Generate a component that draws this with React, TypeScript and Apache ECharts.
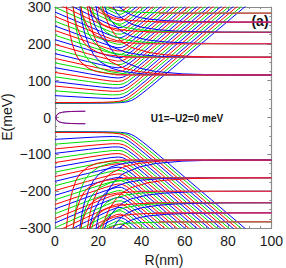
import React, { useEffect, useRef } from 'react';
import * as echarts from 'echarts';

const FONT = '"Liberation Sans", Arial, sans-serif';
const RED = '#ff0000';
const GREEN = '#00dd00';
const BLUE = '#0000ff';
const LL_COLOR = '#e62e50';
const AXIS_GREY = '#8a8a8a';

// axis ranges / ticks
const xRange = [0, 100];
const xInterval = 20;
const yRange = [-300, 300];
const yInterval = 100;

// ---- edge-state lines of the positive branch (index 0 = lowest), colours cycle blue, green, red
const edgeColorCycle = [BLUE, GREEN, RED];
const edgeStartE = [38, 39, 40, 59, 72, 85, 97, 110, 122, 135, 148, 160, 173, 185, 198, 211,
  223, 236, 248, 261, 274, 286, 299, 311, 324, 337, 349, 362, 374, 387, 400, 412];
const edgeDescent = [0, 0, 0, 0.36, 0.48, 0.6, 0.72, 0.84, 0.96, 1.08, 1.2, 1.32, 1.44, 1.56, 1.68, 1.8,
  1.92, 2.04, 2.16, 2.28, 2.4, 2.52, 2.64, 2.76, 2.88, 3.0, 3.12, 3.24, 3.36, 3.48, 3.6, 3.72];
const edgeTopR = [87.7, 85.9, 84.0, 82.2, 80.3, 78.5, 76.6, 74.8, 72.9, 71.1, 69.2, 67.4, 65.5, 63.7, 61.8, 60.0,
  58.1, 56.3, 54.4, 52.6, 50.7, 48.9, 47.0, 45.2, 43.3, 41.5, 39.6, 37.8, 35.9, 34.1, 32.2, 30.4];
const riseSlope = 5; // meV per nm along the straight rising part
const cornerRound = 8; // meV
const cornerAnchors = [-16, -10, -5, -2, 0, 2, 5, 10, 16]; // nm around the bend

// ---- Landau levels (positive branch)
const levelE = [115.7, 163.6, 200.4, 231.4, 258.7, 283.4];
const levelStartR = [28, 32, 38, 42, 46, 48];

// ---- bulk arcs converging onto the Landau levels
const arcLevel = [0, 0, 0, 0, 0, 1, 1, 1, 1, 2, 2, 2, 3, 3, 3, 4, 4, 5];
const arcTopR = [5.3, 8.4, 11.5, 15, 19, 8.4, 12, 16, 22, 12, 17, 23, 16, 21, 27, 20, 30, 24];
const arcWidth = [12.5, 15, 18, 21, 25, 14, 17, 21, 26, 15, 20, 25, 18, 22, 26, 20, 27, 22];
const arcColor = [RED, GREEN, BLUE, RED, BLUE, RED, GREEN, BLUE, RED, RED, GREEN, BLUE, RED, GREEN, BLUE, RED, BLUE, GREEN];
const arcProfile = [[-0.06, 1.6], [0, 1], [0.05, 0.8], [0.12, 0.62], [0.22, 0.45], [0.35, 0.3], [0.5, 0.2],
  [0.8, 0.1], [1.1, 0.05], [1.6, 0.015], [2.0, 0.005], [2.6, 0]];

// ---- zero-energy state near R = 0 (upper arm)
const zeroArm = [[0.4, 0], [0.6, 4], [1, 8], [2, 12], [3.5, 14.3], [5, 15.5], [7.5, 16.3], [10, 16.7], [14, 17]];

function edgePoints(e0: number, s: number, top: number): number[][] {
  const desc = (r: number) => e0 - s * r;
  const diag = (r: number) => 300 - riseSlope * (top - r);
  const soft = (r: number) => {
    const a = desc(r);
    const b = diag(r);
    return (a + b) / 2 + Math.sqrt(((a - b) / 2) ** 2 + cornerRound * cornerRound);
  };
  const rInt = (e0 - 300 + riseSlope * top) / (riseSlope + s);
  const rs = [0, ...cornerAnchors.map((d) => rInt + d), top + 3].filter((r) => r >= 0 && r <= top + 3);
  const out: number[][] = [];
  rs.forEach((r) => {
    if (!out.length || r > out[out.length - 1][0] + 0.01) out.push([r, soft(r)]);
  });
  return out;
}

function arcPoints(k: number): number[][] {
  const L = levelE[arcLevel[k]];
  const t = arcTopR[k];
  const w = arcWidth[k];
  const pts = arcProfile.map(([x, f]) => [t + x * w, L + f * (300 - L)]).filter((p) => p[0] < 99);
  pts.push([100, L]);
  return pts;
}

function line(data: number[][], color: string, width = 1, z = 2, opacity = 1) {
  return {
    type: 'line',
    data,
    showSymbol: false,
    symbol: 'none',
    silent: true,
    smooth: false,
    clip: true,
    z,
    lineStyle: { color, width, opacity },
    emphasis: { disabled: true },
  };
}

const mirror = (pts: number[][]) => pts.map(([r, e]) => [r, -e]);

function buildSeries() {
  const series: any[] = [];
  edgeStartE.forEach((e0, j) => {
    const pts = edgePoints(e0, edgeDescent[j], edgeTopR[j]);
    const c = edgeColorCycle[j % 3];
    series.push(line(pts, c));
    series.push(line(mirror(pts), c));
  });
  arcTopR.forEach((_, k) => {
    const pts = arcPoints(k);
    series.push(line(pts, arcColor[k], 1, 3));
    series.push(line(mirror(pts), arcColor[k], 1, 3));
  });
  series.push(line(zeroArm, BLUE, 1, 3));
  series.push(line(mirror(zeroArm), BLUE, 1, 3));
  series.push(line(zeroArm, RED, 1, 3, 0.55));
  series.push(line(mirror(zeroArm), RED, 1, 3, 0.55));
  levelE.forEach((L, n) => {
    const pts = [[levelStartR[n], L], [100, L]];
    series.push(line(pts, LL_COLOR, 1.2, 5));
    series.push(line(mirror(pts), LL_COLOR, 1.2, 5));
  });
  return series;
}

const minusFmt = (v: number) => (v < 0 ? '\u2212' + Math.abs(v) : String(v));

function axisCommon(show: boolean) {
  return {
    axisLine: { show: true, onZero: false, lineStyle: { color: AXIS_GREY, width: 1.2 } },
    axisTick: { show: true, inside: true, length: 4, lineStyle: { color: AXIS_GREY } },
    minorTick: { show: true, splitNumber: 4, length: 2, lineStyle: { color: AXIS_GREY } },
    splitLine: { show: false },
    minorSplitLine: { show: false },
    axisLabel: { show, fontSize: 14, color: '#1a1a1a', fontFamily: FONT },
  };
}

export default function App() {
  const ref = useRef<HTMLDivElement>(null);
  useEffect(() => {
    if (!ref.current) return;
    const chart = echarts.init(ref.current, undefined, { renderer: 'svg' });
    const xa = axisCommon(true);
    const ya = axisCommon(true);
    chart.setOption({
      animation: false,
      backgroundColor: '#ffffff',
      grid: { left: 55, right: 12, top: 7, bottom: 40 },
      xAxis: [
        { type: 'value', min: xRange[0], max: xRange[1], interval: xInterval, position: 'bottom', ...xa,
          axisLabel: { ...xa.axisLabel, margin: 6 } },
        { type: 'value', min: xRange[0], max: xRange[1], interval: xInterval, position: 'top', ...axisCommon(false) },
      ],
      yAxis: [
        { type: 'value', min: yRange[0], max: yRange[1], interval: yInterval, position: 'left', ...ya,
          axisLabel: { ...ya.axisLabel, margin: 4, formatter: minusFmt } },
        { type: 'value', min: yRange[0], max: yRange[1], interval: yInterval, position: 'right', ...axisCommon(false) },
      ],
      graphic: [
        { type: 'text', x: 7, y: 117, rotation: Math.PI / 2, silent: true,
          style: { text: 'E(meV)', font: '14px ' + FONT, fill: '#1a1a1a', align: 'center', verticalAlign: 'middle',
            textAlign: 'center', textVerticalAlign: 'middle' } },
        { type: 'text', x: 164, y: 260, silent: true,
          style: { text: 'R(nm)', font: '14px ' + FONT, fill: '#1a1a1a', align: 'center', verticalAlign: 'middle',
            textAlign: 'center', textVerticalAlign: 'middle' } },
        { type: 'text', x: 260, y: 21, silent: true,
          style: { text: '(a)', font: 'bold 14px ' + FONT, fill: '#111', align: 'center', verticalAlign: 'middle',
            textAlign: 'center', textVerticalAlign: 'middle' } },
        { type: 'text', x: 187, y: 118, silent: true,
          style: { text: 'U1=\u2013U2=0 meV', font: 'bold 10px ' + FONT, fill: '#111', align: 'center', verticalAlign: 'middle',
            textAlign: 'center', textVerticalAlign: 'middle' } },
      ],
      series: buildSeries(),
    });
    return () => chart.dispose();
  }, []);
  return (
    <div
      ref={ref}
      style={{ position: 'fixed', left: 0, top: 0, width: 286, height: 268, background: '#fff' }}
    />
  );
}
